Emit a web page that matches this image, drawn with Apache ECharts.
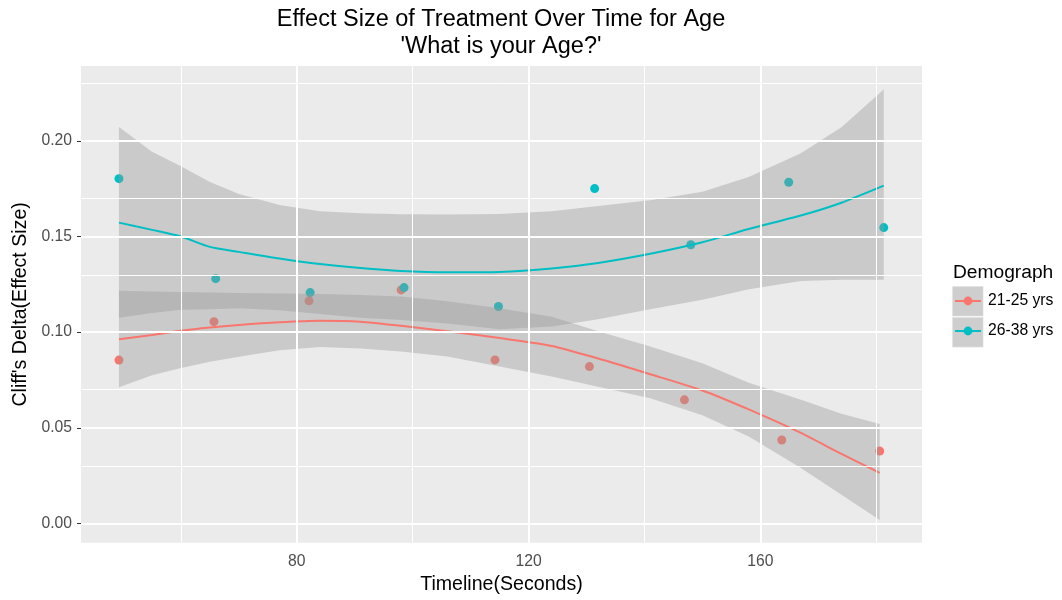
<!DOCTYPE html>
<html>
<head>
<meta charset="utf-8">
<script src="https://cdn.jsdelivr.net/npm/echarts@6/dist/echarts.min.js"></script>
<style>html,body{margin:0;padding:0;background:#fff}#c{width:1062px;height:600px}</style>
</head>
<body>
<div id="c"></div>
<script>
// ---- data ----
const seriesNames = ['21-25 yrs', '26-38 yrs'];
const redX = [49.3, 65.7, 82.1, 98.0, 114.2, 130.5, 146.9, 163.7, 180.6];
const redY = [0.0854, 0.1055, 0.1164, 0.1221, 0.0855, 0.0820, 0.0646, 0.0436, 0.0378];
const tealX = [49.3, 66.0, 82.3, 98.5, 114.8, 131.4, 148.0, 164.9, 181.3];
const tealY = [0.1803, 0.1280, 0.1207, 0.1233, 0.1134, 0.1751, 0.1457, 0.1784, 0.1547];

// loess fit & 95% band
const fitXRed = [49.3, 55, 60, 65, 70, 77, 84, 91, 98, 106, 115, 124, 132, 141, 150, 158, 167, 174, 180.6];
const redFit = [.0963, .0985, .1008, .1025, .1038, .1052, .1060, .1055, .1033, .1005, .0969, .0928, .0862, .0780, .0695, .0596, .0473, .0363, .0264];
const redHi  = [.1216, .1213, .1210, .1207, .1205, .1202, .1200, .1195, .1186, .1162, .1125, .1080, .1005, .0925, .0838, .0735, .0646, .0574, .0520];
const redLo  = [.0712, .0775, .0812, .0845, .0872, .0905, .0922, .0915, .0899, .0873, .0820, .0768, .0715, .0655, .0565, .0455, .0290, .0150, .0018];

const fitXTeal = [49.3, 55, 60, 65, 70, 77, 84, 91, 98, 106, 115, 124, 132, 141, 150, 158, 167, 174, 181.3];
const tealFit = [.1573, .1535, .1500, .1446, .1420, .1385, .1356, .1335, .1320, .1313, .1315, .1333, .1362, .1410, .1470, .1540, .1610, .1677, .1766];
const tealHi  = [.2073, .1943, .1868, .1785, .1722, .1665, .1633, .1622, .1617, .1615, .1618, .1632, .1660, .1690, .1735, .1812, .1936, .2072, .2269];
const tealLo  = [.1076, .1100, .1117, .1120, .1125, .1115, .1095, .1075, .1064, .1045, .1015, .1030, .1068, .1120, .1170, .1225, .1267, .1274, .1274];

const xMajor = [80, 120, 160];
const xMinor = [60, 100, 140, 180];
const yMajor = [0, 0.05, 0.10, 0.15, 0.20];
const yMinor = [0.025, 0.075, 0.125, 0.175, 0.225];

const RED = '#F8766D', TEAL = '#00BFC4';
const FONT = '"Liberation Sans", Arial, sans-serif';

function pairs(xs, ys) { return xs.map((x, i) => [x, ys[i]]); }

function band(name, xs, lo, hi) {
  return {
    type: 'custom', name: name, z: 3, silent: true, animation: false,
    coordinateSystem: 'cartesian2d',
    data: [[xs[0], lo[0]]],
    renderItem: function (params, api) {
      const pts = [];
      for (let i = 0; i < xs.length; i++) pts.push(api.coord([xs[i], hi[i]]));
      for (let i = xs.length - 1; i >= 0; i--) pts.push(api.coord([xs[i], lo[i]]));
      return { type: 'polygon', shape: { points: pts }, style: { fill: 'rgba(153,153,153,0.4)' } };
    }
  };
}

const gridLines = [];
xMajor.forEach(v => gridLines.push({ xAxis: v, lineStyle: { width: 2 } }));
xMinor.forEach(v => gridLines.push({ xAxis: v, lineStyle: { width: 1 } }));
yMajor.forEach(v => gridLines.push({ yAxis: v, lineStyle: { width: 2 } }));
yMinor.forEach(v => gridLines.push({ yAxis: v, lineStyle: { width: 1 } }));

const chart = echarts.init(document.getElementById('c'), null, { renderer: 'canvas' });
chart.setOption({
  animation: false,
  backgroundColor: '#ffffff',
  title: [
    { text: "Effect Size of Treatment Over Time for Age\n'What is your Age?'", left: 501, top: 6, padding: 0,
      textAlign: 'center',
      textStyle: { fontFamily: FONT, fontSize: 23.5, fontWeight: 'normal', color: '#000', lineHeight: 27 } },
    { text: 'Demograph', left: 953, top: 262, padding: 0,
      textStyle: { fontFamily: FONT, fontSize: 19.2, fontWeight: 'normal', color: '#000', lineHeight: 22 } }
  ],
  legend: {
    data: seriesNames, orient: 'vertical', left: 954, top: 292, padding: 0,
    itemWidth: 26, itemHeight: 11, itemGap: 12,
    textStyle: { fontFamily: FONT, fontSize: 15.7, color: '#000', lineHeight: 18, padding: [0, 0, 0, 2] },
    selectedMode: false
  },
  graphic: [
    { type: 'rect', left: 952, top: 286, shape: { width: 31, height: 30 }, style: { fill: '#CECECE', stroke: '#F2F2F2', lineWidth: 0.5 }, z: -1 },
    { type: 'rect', left: 952, top: 317, shape: { width: 31, height: 30 }, style: { fill: '#CECECE', stroke: '#F2F2F2', lineWidth: 0.5 }, z: -1 }
  ],
  grid: { left: 81, right: 140, top: 66, bottom: 57.3, show: true, backgroundColor: '#EBEBEB', borderWidth: 0 },
  xAxis: {
    type: 'value', min: 42.75, max: 187.9,
    name: 'Timeline(Seconds)', nameLocation: 'middle', nameGap: 30,
    nameTextStyle: { fontFamily: FONT, fontSize: 19.6, color: '#000' },
    axisLine: { show: false },
    axisTick: { show: true, customValues: xMajor, length: 4, lineStyle: { color: '#333', width: 1 } },
    axisLabel: { customValues: xMajor, fontFamily: FONT, fontSize: 15.7, color: '#4D4D4D', margin: 11 },
    splitLine: { show: false }
  },
  yAxis: {
    type: 'value', min: -0.0101, max: 0.2392,
    name: "Cliff's Delta(Effect Size)", nameLocation: 'middle', nameGap: 49,
    nameTextStyle: { fontFamily: FONT, fontSize: 19.6, color: '#000' },
    axisLine: { show: false },
    axisTick: { show: true, customValues: yMajor, length: 4, lineStyle: { color: '#333', width: 1 } },
    axisLabel: { customValues: yMajor, fontFamily: FONT, fontSize: 15.7, color: '#4D4D4D', margin: 9,
      formatter: v => v.toFixed(2) },
    splitLine: { show: false }
  },
  series: [
    { name: seriesNames[0], type: 'line', data: pairs(fitXRed, redFit), symbol: 'none', smooth: 0.25, z: 4,
      color: RED, lineStyle: { color: RED, width: 2 }, itemStyle: { color: RED } },
    { name: seriesNames[1], type: 'line', data: pairs(fitXTeal, tealFit), symbol: 'none', smooth: 0.25, z: 4,
      color: TEAL, lineStyle: { color: TEAL, width: 2 }, itemStyle: { color: TEAL } },
    { name: 'grid', type: 'line', data: [], z: 1, silent: true,
      markLine: { symbol: 'none', silent: true, animation: false, label: { show: false },
        lineStyle: { color: '#FFFFFF', type: 'solid' }, data: gridLines } },
    { name: seriesNames[0], type: 'scatter', data: pairs(redX, redY), symbolSize: 9, z: 2, itemStyle: { color: RED, opacity: 1 } },
    { name: seriesNames[1], type: 'scatter', data: pairs(tealX, tealY), symbolSize: 9, z: 2, itemStyle: { color: TEAL, opacity: 1 } },
    band('bandRed', fitXRed, redLo, redHi),
    band('bandTeal', fitXTeal, tealLo, tealHi)
  ]
});
</script>
</body>
</html>
